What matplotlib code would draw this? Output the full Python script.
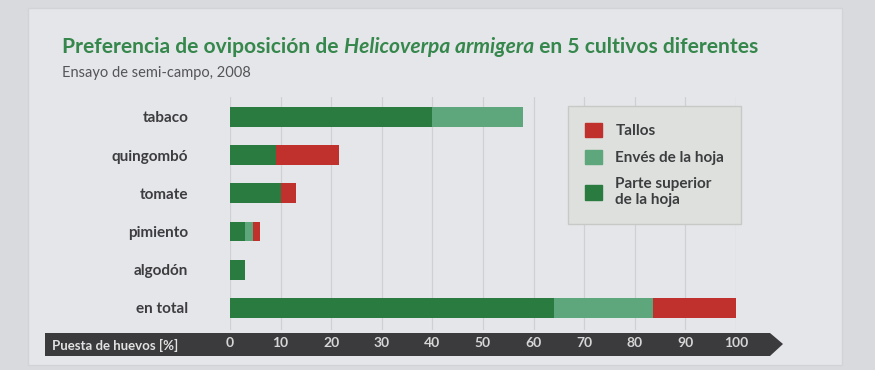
import numpy as np
import matplotlib.pyplot as plt
from matplotlib.patches import Polygon, Rectangle, Patch

plt.rcParams['font.family'] = ['Lato', 'DejaVu Sans']

# datos (% de puesta de huevos)
cultivos = ['tabaco', 'quingombó', 'tomate', 'pimiento', 'algodón', 'en total']
parte_superior = [40, 9, 10, 3, 3, 64]
enves = [18, 0, 0, 1.5, 0, 19.5]
tallos = [0, 12.5, 3, 1.5, 0, 16.5]
ticks_x = [0, 10, 20, 30, 40, 50, 60, 70, 80, 90, 100]

c_oscuro = '#2a7b40'
c_claro = '#5ea67c'
c_rojo = '#c0312e'
c_texto = '#3d3d40'

fig = plt.figure(figsize=(8.75, 3.7), dpi=100)
fig.patch.set_facecolor('#d9dadd')
W, H = 875, 370

# "página" clara
fig.patches.append(Rectangle((28 / W, 1 - 365 / H), 814 / W, 357 / H,
                             transform=fig.transFigure, facecolor='#e5e6e9',
                             edgecolor='#d2d3d6', lw=1, zorder=-2))

# banda oscura del eje x con flecha
banda = [(45, 333), (770, 333), (783, 344), (770, 356), (45, 356)]
fig.patches.append(Polygon([(x / W, 1 - y / H) for x, y in banda], closed=True,
                           transform=fig.transFigure, facecolor='#3b3a3d',
                           edgecolor='none', zorder=-1))

ax = fig.add_axes([230 / W, 1 - 330 / H, 506 / W, 233 / H])
ax.set_facecolor('none')

y = np.arange(len(cultivos))
izq2 = np.array(parte_superior)
izq3 = izq2 + np.array(enves)
h = 0.52
ax.barh(y, parte_superior, height=h, color=c_oscuro, zorder=3)
ax.barh(y, enves, left=izq2, height=h, color=c_claro, zorder=3)
ax.barh(y, tallos, left=izq3, height=h, color=c_rojo, zorder=3)

ax.set_xlim(0, 100)
ax.set_ylim(5.58, -0.52)
ax.set_xticks(ticks_x)
ax.set_xticklabels([str(t) for t in ticks_x], fontsize=10, fontweight='bold',
                   color='#d6d6d6')
ax.set_yticks(y)
ax.set_yticklabels(cultivos, fontsize=11, fontweight='bold', color=c_texto)
ax.tick_params(axis='x', length=0, pad=5)
ax.tick_params(axis='y', length=0, pad=30)
ax.grid(axis='x', color='#cfd0d3', lw=0.9, zorder=0)
for s in ax.spines.values():
    s.set_visible(False)

fig.text(52 / W, 1 - 345 / H, 'Puesta de huevos [%]', fontsize=9.5,
         fontweight='bold', color='#e2e2e2', va='center')

# título con parte en cursiva
renderer = fig.canvas.get_renderer()
partes = [('Preferencia de oviposición de ', 'normal'),
          ('Helicoverpa armigera', 'italic'),
          (' en 5 cultivos diferentes', 'normal')]
x0 = 62 / W
for txt, estilo in partes:
    t = fig.text(x0, 1 - 47 / H, txt, fontsize=15.1, fontweight='bold',
                 style=estilo, color='#35874c', va='center')
    bb = t.get_window_extent(renderer)
    x0 = bb.x1 / fig.bbox.width
fig.text(62 / W, 1 - 73 / H, 'Ensayo de semi-campo, 2008', fontsize=10.5,
         color='#555558', va='center')

handles = [Patch(color=c_rojo, label='Tallos'),
           Patch(color=c_claro, label='Envés de la hoja'),
           Patch(color=c_oscuro, label='Parte superior\nde la hoja')]
leg = ax.legend(handles=handles, loc='upper left',
                bbox_to_anchor=((568 - 230) / 506, (330 - 106) / 233),
                borderaxespad=0, frameon=True, fancybox=False,
                handlelength=1.1, handleheight=1.1,
                handletextpad=0.9, labelspacing=0.75, borderpad=1.1,
                prop={'weight': 'bold', 'size': 11})
leg.get_frame().set_facecolor('#dde0dd')
leg.get_frame().set_edgecolor('#c6c9c6')
leg.get_frame().set_alpha(1)
for t in leg.get_texts():
    t.set_color(c_texto)

fig.savefig('out.png', dpi=100, facecolor=fig.get_facecolor())
